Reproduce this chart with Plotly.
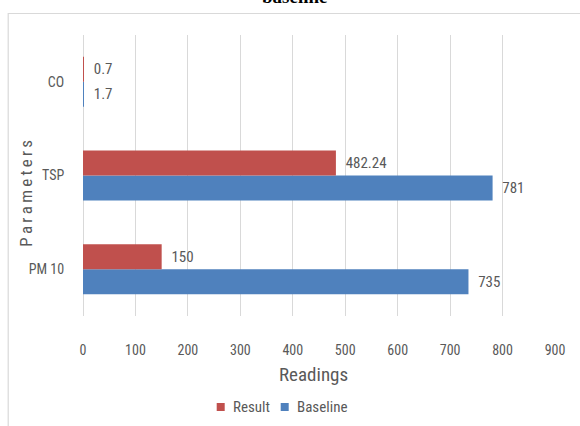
import plotly.graph_objects as go

categories = ["PM 10", "TSP", "CO"]
result_vals = [150, 482.24, 0.7]
baseline_vals = [735, 781, 1.7]
result_labels = ["150", "482.24", "0.7"]
baseline_labels = ["735", "781", "1.7"]
x_ticks = [0, 100, 200, 300, 400, 500, 600, 700, 800, 900]

FONT = "Liberation Sans Narrow, Arial Narrow, Roboto Condensed, Liberation Sans, sans-serif"
GREY = "#595959"
GRID = "#d9d9d9"
RED = "#C0504D"
BLUE = "#4F81BD"
SP = "\u2002"

fig = go.Figure()
fig.add_trace(go.Bar(
    y=categories, x=baseline_vals, name="Baseline", orientation="h",
    marker=dict(color=BLUE, line=dict(width=0)),
    text=[SP + t for t in baseline_labels], textposition="outside", cliponaxis=False,
    textfont=dict(family=FONT, size=15, color=GREY), showlegend=False,
))
fig.add_trace(go.Bar(
    y=categories, x=result_vals, name="Result", orientation="h",
    marker=dict(color=RED, line=dict(width=0)),
    text=[SP + t for t in result_labels], textposition="outside", cliponaxis=False,
    textfont=dict(family=FONT, size=15, color=GREY), showlegend=False,
))

L, R, T, B = 83.3, 24.7, 35, 110
W, H = 580, 426
pw, ph = W - L - R, H - T - B

def px_x(p):
    return (p - L) / pw

def px_y(p):
    return (H - B - p) / ph

# outer chart frame
fig.add_shape(type="rect", xref="paper", yref="paper",
              x0=px_x(8.5), x1=px_x(600), y0=px_y(440), y1=px_y(13.5),
              line=dict(color=GRID, width=1.2), fillcolor="rgba(0,0,0,0)", layer="below")

# cut-off title
fig.add_annotation(text="<b>baseline</b>", xref="paper", yref="paper",
                   x=px_x(295), y=px_y(4), yanchor="bottom", xanchor="center",
                   showarrow=False, yshift=-5,
                   font=dict(family="Liberation Serif, Times New Roman, serif", size=19, color="#000000"))

# axis titles
fig.add_annotation(text="\u2009".join("Parameters"), xref="paper", yref="paper",
                   x=px_x(26), y=px_y(193), xanchor="center", yanchor="middle",
                   textangle=-90, showarrow=False,
                   font=dict(family=FONT, size=17, color=GREY))
fig.add_annotation(text="Readings", xref="paper", yref="paper",
                   x=px_x(314), y=px_y(374), xanchor="center", yanchor="middle",
                   showarrow=False, font=dict(family=FONT, size=19, color=GREY))

# custom legend
legend_items = [("Result", RED, 217, 231), ("Baseline", BLUE, 281, 295)]
for name, col, sx, tx in legend_items:
    fig.add_shape(type="rect", xref="paper", yref="paper",
                  x0=px_x(sx), x1=px_x(sx + 8), y0=px_y(411), y1=px_y(403),
                  line=dict(width=0), fillcolor=col)
    fig.add_annotation(text=name, xref="paper", yref="paper", x=px_x(tx), y=px_y(407),
                       xanchor="left", yanchor="middle", showarrow=False,
                       font=dict(family=FONT, size=15, color=GREY))

fig.update_layout(
    width=W, height=H,
    margin=dict(l=L, r=R, t=T, b=B, autoexpand=False),
    paper_bgcolor="white", plot_bgcolor="white",
    barmode="group", bargap=0.466, bargroupgap=0,
    font=dict(family=FONT, color=GREY, size=14),
    showlegend=False,
    xaxis=dict(range=[0, 900], tickvals=x_ticks, showgrid=True, gridcolor=GRID, gridwidth=1,
               zeroline=True, zerolinecolor=GRID, zerolinewidth=1, showline=False,
               ticks="outside", ticklen=21, tickcolor="rgba(0,0,0,0)",
               tickfont=dict(family=FONT, size=14, color=GREY),
               automargin=False, fixedrange=True),
    yaxis=dict(categoryorder="array", categoryarray=categories, showgrid=False, zeroline=False,
               showline=False, ticks="outside", ticklen=15, tickcolor="rgba(0,0,0,0)",
               tickfont=dict(family=FONT, size=14, color=GREY),
               automargin=False, fixedrange=True),
)

fig.write_html("out.html")
